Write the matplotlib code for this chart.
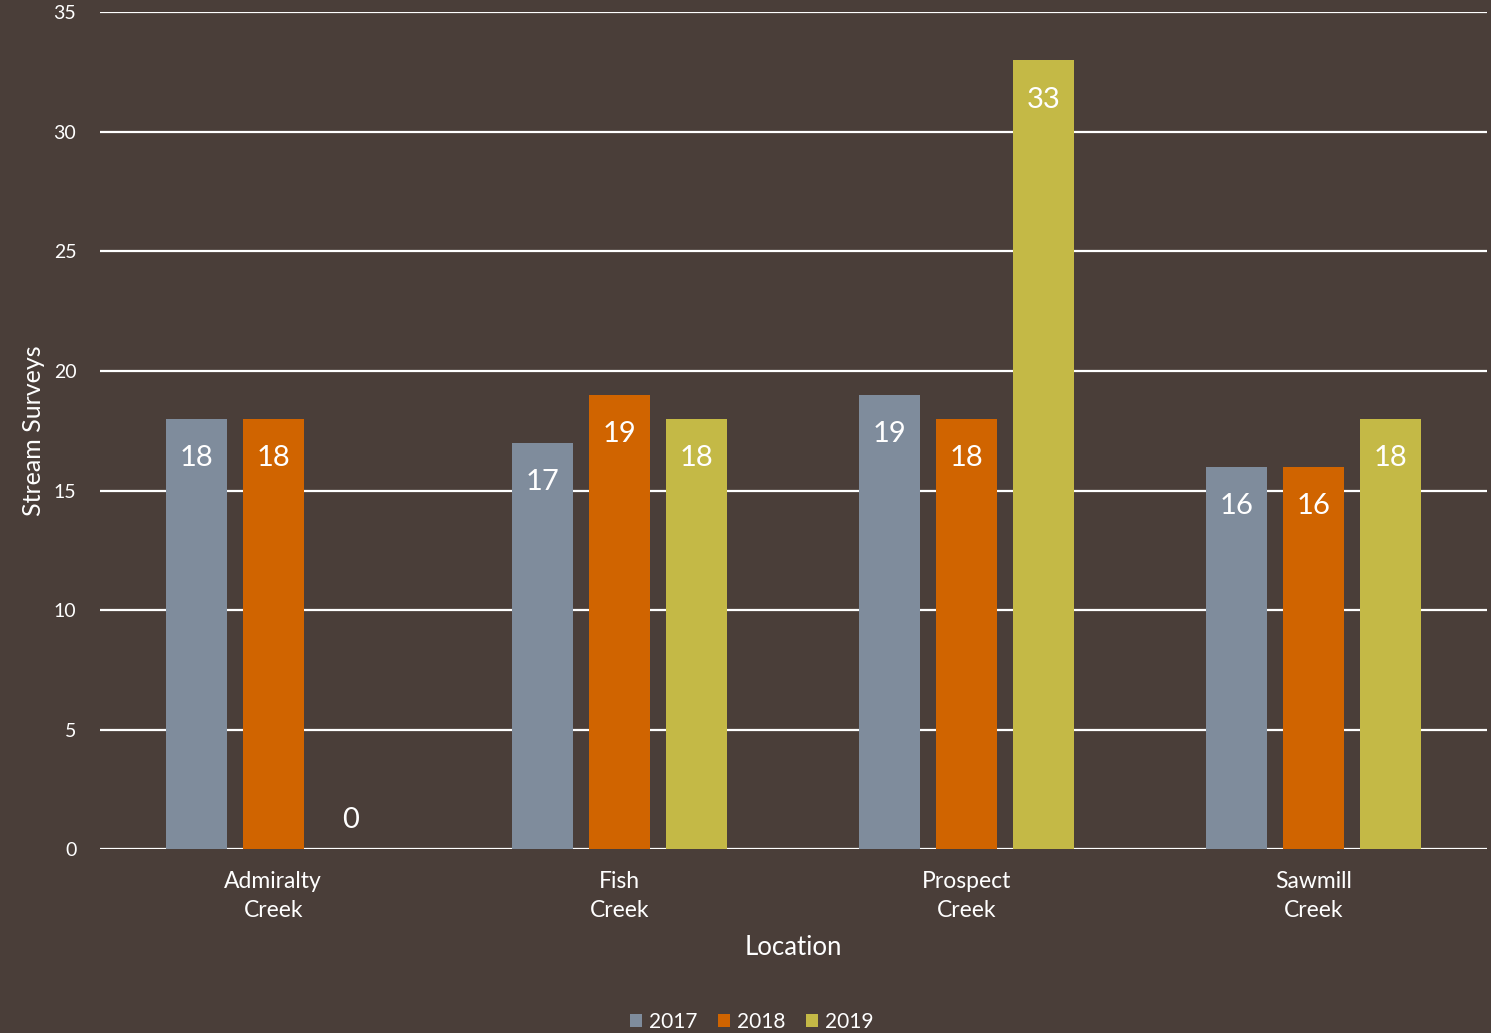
import matplotlib.pyplot as plt
import numpy as np

plt.rcParams['font.family'] = ['Lato', 'DejaVu Sans']

locations = ["Admiralty\nCreek", "Fish\nCreek", "Prospect\nCreek", "Sawmill\nCreek"]
years = ["2017", "2018", "2019"]
surveys_2017 = [18, 17, 19, 16]
surveys_2018 = [18, 19, 18, 16]
surveys_2019 = [0, 18, 33, 18]
colors = ["#7f8c9c", "#d06400", "#c4b946"]

bg = "#4a3e39"
fig = plt.figure(figsize=(14.91, 10.33), dpi=100, facecolor=bg)
ax = fig.add_axes([0.067, 0.178, 0.93, 0.81], facecolor=bg)

x = np.arange(len(locations))
offset = 0.222
width = 0.176
series = [surveys_2017, surveys_2018, surveys_2019]
for i, vals in enumerate(series):
    pos = x + (i - 1) * offset
    bars = ax.bar(pos, vals, width, color=colors[i], label=years[i], zorder=3)
    for xp, v in zip(pos, vals):
        if v > 0:
            ax.text(xp, v - 1.65, str(v), ha='center', va='center', color='white', fontsize=21, zorder=4)
        else:
            ax.text(xp, v + 1.2, str(v), ha='center', va='center', color='white', fontsize=21, zorder=4)

ax.set_xlim(-0.5, 3.5)
ax.set_ylim(0, 35)
ax.set_yticks(np.arange(0, 36, 5))
ax.yaxis.grid(True, color='white', linewidth=1.6, zorder=0)
ax.set_axisbelow(True)
for s in ax.spines.values():
    s.set_visible(False)
ax.tick_params(axis='both', length=0, colors='white')
ax.tick_params(axis='y', labelsize=14, pad=17)
ax.tick_params(axis='x', labelsize=16.5, pad=16)
ax.set_xticks(x)
ax.set_xticklabels(locations, color='white', linespacing=1.45)
for t in ax.get_yticklabels():
    t.set_color('white')

ax.set_xlabel("Location", color='white', fontsize=18.5, labelpad=10)
ax.set_ylabel("Stream Surveys", color='white', fontsize=18, labelpad=6)

leg = fig.legend(loc='lower center', ncol=3, frameon=False, fontsize=15, labelcolor='white',
                 handlelength=0.6, handleheight=0.6, handletextpad=0.3, columnspacing=1.0,
                 bbox_to_anchor=(0.504, -0.017))

fig.savefig("out.png", dpi=100, facecolor=bg)
